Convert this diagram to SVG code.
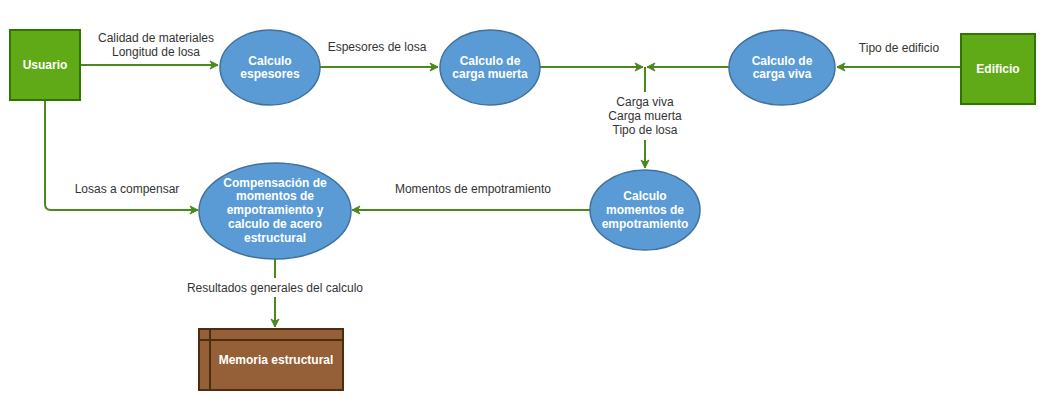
<svg xmlns="http://www.w3.org/2000/svg" width="1061" height="410" viewBox="0 0 1061 410">
<defs>
<marker id="arr" viewBox="0 0 10 10" refX="9" refY="5" markerWidth="10" markerHeight="10" markerUnits="userSpaceOnUse" orient="auto">
<path d="M1,1 L9,5 L1,9 L3.5,5 Z" fill="#4a8a1c" stroke="#4a8a1c" stroke-width="1"/>
</marker>
<style>
.ent{fill:#60a917;stroke:#2d7600;stroke-width:2}
.proc{fill:#5b9bd5;stroke:#41719c;stroke-width:1.5}
.store{fill:#955f38;stroke:#4d2d12;stroke-width:2}
.nt{font-family:"Liberation Sans",Arial,sans-serif;font-size:12px;font-weight:bold;fill:#ffffff;text-anchor:middle}
.lb{font-family:"Liberation Sans",Arial,sans-serif;font-size:12px;fill:#333333;text-anchor:middle}
.cn{fill:none;stroke:#4a8a1c;stroke-width:2}
</style>
</defs>
<rect width="1061" height="410" fill="#ffffff"/>
<g id="connectors">
<path class="cn" d="M80,65 L218,65" marker-end="url(#arr)"/>
<path class="cn" d="M320,67 L438,67" marker-end="url(#arr)"/>
<path class="cn" d="M540,67 L643,67" marker-end="url(#arr)"/>
<path class="cn" d="M729,67 L647,67" marker-end="url(#arr)"/>
<path class="cn" d="M961,67 L837,67" marker-end="url(#arr)"/>
<path class="cn" d="M645,67 L645,92"/>
<path class="cn" d="M645,140 L645,168" marker-end="url(#arr)"/>
<path class="cn" d="M590,210 L352,210" marker-end="url(#arr)"/>
<path class="cn" d="M45,100 L45,204 Q45,210 51,210 L198,210" marker-end="url(#arr)"/>
<path class="cn" d="M275,259 L275,278"/>
<path class="cn" d="M275,297 L275,327" marker-end="url(#arr)"/>
<text class="lb" x="156" y="42">Calidad de materiales</text>
<text class="lb" x="156" y="56">Longitud de losa</text>
<text class="lb" x="377" y="51">Espesores de losa</text>
<text class="lb" x="899" y="52">Tipo de edificio</text>
<text class="lb" x="645" y="106">Carga viva</text>
<text class="lb" x="645" y="120">Carga muerta</text>
<text class="lb" x="645" y="134">Tipo de losa</text>
<text class="lb" x="473" y="193">Momentos de empotramiento</text>
<text class="lb" x="127" y="193">Losas a compensar</text>
<text class="lb" x="275" y="292">Resultados generales del calculo</text>
</g>
<g id="usuario">
<rect class="ent" x="10" y="30" width="70" height="70"/>
<text class="nt" x="45" y="69">Usuario</text>
</g>
<g id="edificio">
<rect class="ent" x="961" y="34" width="74" height="70"/>
<text class="nt" x="998" y="73">Edificio</text>
</g>
<g id="calculo-espesores">
<ellipse class="proc" cx="270" cy="67.5" rx="50" ry="37.5"/>
<text class="nt" x="270" y="65">Calculo</text>
<text class="nt" x="270" y="78">espesores</text>
</g>
<g id="carga-muerta">
<ellipse class="proc" cx="490" cy="67.5" rx="50" ry="37.5"/>
<text class="nt" x="490" y="65">Calculo de</text>
<text class="nt" x="490" y="78">carga muerta</text>
</g>
<g id="carga-viva">
<ellipse class="proc" cx="782" cy="67.5" rx="53" ry="37.5"/>
<text class="nt" x="782" y="65">Calculo de</text>
<text class="nt" x="782" y="78">carga viva</text>
</g>
<g id="momentos">
<ellipse class="proc" cx="645" cy="210" rx="55" ry="40"/>
<text class="nt" x="645" y="200">Calculo</text>
<text class="nt" x="645" y="214">momentos de</text>
<text class="nt" x="645" y="228">empotramiento</text>
</g>
<g id="compensacion">
<ellipse class="proc" cx="275" cy="211" rx="76" ry="48"/>
<text class="nt" x="275" y="187">Compensación de</text>
<text class="nt" x="275" y="200">momentos de</text>
<text class="nt" x="275" y="214">empotramiento y</text>
<text class="nt" x="275" y="228">calculo de acero</text>
<text class="nt" x="275" y="242">estructural</text>
</g>
<g id="memoria">
<rect class="store" x="199" y="329" width="144" height="61"/>
<path d="M210,329 L210,390 M199,340 L343,340" fill="none" stroke="#4d2d12" stroke-width="2"/>
<text class="nt" x="276" y="364">Memoria estructural</text>
</g>
</svg>
